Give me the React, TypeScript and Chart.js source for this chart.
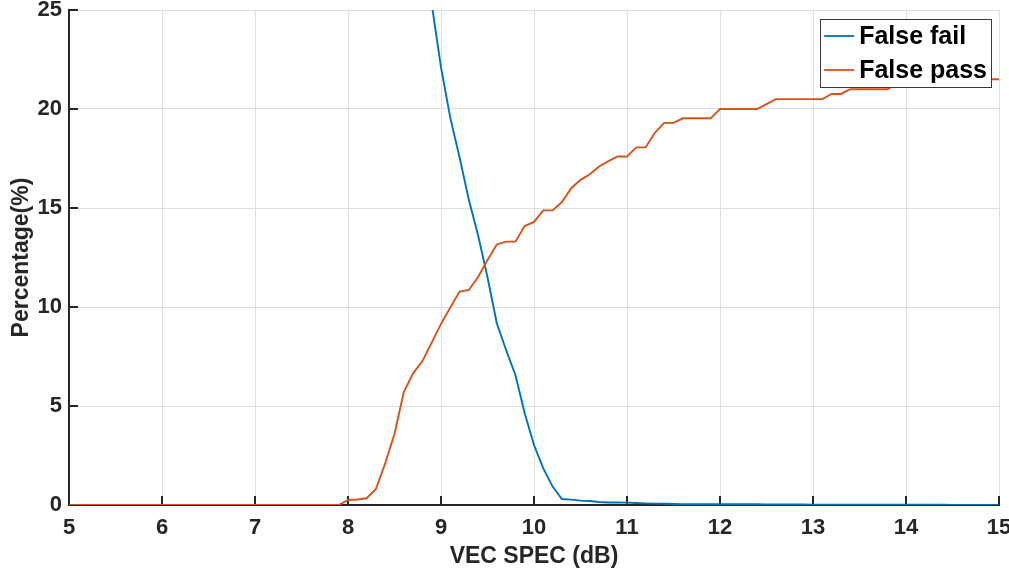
import React, { useEffect, useRef } from "react";
import { Chart, registerables } from "chart.js";

Chart.register(...registerables);

// VEC SPEC (dB) sample positions
const xValues = [
  5.0, 5.1, 5.2, 5.3, 5.4, 5.5, 5.6, 5.7, 5.8, 5.9,
  6.0, 6.1, 6.2, 6.3, 6.4, 6.5, 6.6, 6.7, 6.8, 6.9,
  7.0, 7.1, 7.2, 7.3, 7.4, 7.5, 7.6, 7.7, 7.8, 7.9,
  8.0, 8.1, 8.2, 8.3, 8.4, 8.5, 8.6, 8.7, 8.8, 8.9,
  9.0, 9.1, 9.2, 9.3, 9.4, 9.5, 9.6, 9.7, 9.8, 9.9,
  10.0, 10.1, 10.2, 10.3, 10.4, 10.5, 10.6, 10.7, 10.8, 10.9,
  11.0, 11.1, 11.2, 11.3, 11.4, 11.5, 11.6, 11.7, 11.8, 11.9,
  12.0, 12.1, 12.2, 12.3, 12.4, 12.5, 12.6, 12.7, 12.8, 12.9,
  13.0, 13.1, 13.2, 13.3, 13.4, 13.5, 13.6, 13.7, 13.8, 13.9,
  14.0, 14.1, 14.2, 14.3, 14.4, 14.5, 14.6, 14.7, 14.8, 14.9,
  15.0,
];

// False fail (%) — off the top of the plot before 8.8 dB
const falseFail = [
  null, null, null, null, null, null, null, null, null, null,
  null, null, null, null, null, null, null, null, null, null,
  null, null, null, null, null, null, null, null, null, null,
  null, null, null, null, null, null, null, null, 28.6, 25.3,
  22.1, 19.55, 17.55, 15.4, 13.6, 11.5, 9.18, 7.83, 6.57, 4.63,
  3.03, 1.85, 0.93, 0.3, 0.27, 0.22, 0.2, 0.15, 0.13, 0.13,
  0.12, 0.1, 0.08, 0.07, 0.06, 0.05, 0.04, 0.04, 0.04, 0.04,
  0.04, 0.04, 0.04, 0.04, 0.04, 0.03, 0.03, 0.03, 0.03, 0.03,
  0.02, 0.02, 0.02, 0.02, 0.02, 0.01, 0.01, 0.01, 0.01, 0.01,
  0.01, 0.01, 0.01, 0.01, 0.01, 0, 0, 0, 0, 0,
  0,
];

// False pass (%)
const falsePass = [
  0, 0, 0, 0, 0, 0, 0, 0, 0, 0,
  0, 0, 0, 0, 0, 0, 0, 0, 0, 0,
  0, 0, 0, 0, 0, 0, 0, 0, 0, 0,
  0.25, 0.28, 0.34, 0.81, 2.1, 3.6, 5.7, 6.65, 7.27, 8.2,
  9.15, 9.97, 10.78, 10.86, 11.53, 12.37, 13.16, 13.3, 13.3, 14.09,
  14.3, 14.88, 14.88, 15.3, 16.0, 16.42, 16.7, 17.1, 17.37, 17.6,
  17.6, 18.06, 18.06, 18.8, 19.3, 19.3, 19.53, 19.53, 19.53, 19.53,
  20.0, 20.0, 20.0, 20.0, 20.0, 20.25, 20.5, 20.5, 20.5, 20.5,
  20.5, 20.5, 20.76, 20.76, 21.0, 21.0, 21.0, 21.0, 21.0, 21.25,
  21.5, 21.5, 21.5, 21.5, 21.5, 21.5, 21.5, 21.5, 21.5, 21.5,
  21.5,
];

const seriesLabels = ["False fail", "False pass"];
const seriesColors = ["#0072BD", "#D95319"];
const xTitle = "VEC SPEC (dB)";
const yTitle = "Percentage(%)";

const FONT_FAMILY = "'Liberation Sans', Arial, Helvetica, sans-serif";
const AXIS_COLOR = "#262626";
const GRID_COLOR = "#dfdfdf";

const inwardTicks = {
  id: "inwardTicks",
  beforeDatasetsDraw(chart: any) {
    const { ctx, chartArea } = chart;
    const xs = chart.scales.x;
    const ys = chart.scales.y;
    ctx.save();
    ctx.strokeStyle = AXIS_COLOR;
    ctx.lineWidth = 2;
    ctx.beginPath();
    xs.ticks.forEach((t: any) => {
      const px = xs.getPixelForValue(t.value);
      ctx.moveTo(px, chartArea.bottom);
      ctx.lineTo(px, chartArea.bottom - 9);
    });
    ys.ticks.forEach((t: any) => {
      const py = ys.getPixelForValue(t.value);
      ctx.moveTo(chartArea.left, py);
      ctx.lineTo(chartArea.left + 9, py);
    });
    ctx.stroke();
    ctx.restore();
  },
};

const boxLegend = {
  id: "boxLegend",
  afterDraw(chart: any) {
    const { ctx, chartArea } = chart;
    const font = `bold 25px ${FONT_FAMILY}`;
    ctx.save();
    ctx.font = font;
    const labels = chart.data.datasets.map((d: any) => d.label);
    const textW = Math.max(...labels.map((l: string) => ctx.measureText(l).width));
    const lineLen = 30;
    const padL = 4;
    const gap = 5;
    const padR = 4;
    const rowH = 34;
    const w = padL + lineLen + gap + textW + padR;
    const h = rowH * labels.length;
    const right = chartArea.right - 8;
    const top = chartArea.top + 9;
    const left = right - w;
    ctx.fillStyle = "#ffffff";
    ctx.fillRect(left, top, w, h);
    ctx.strokeStyle = "#3a3a3a";
    ctx.lineWidth = 1;
    ctx.strokeRect(Math.round(left) + 0.5, Math.round(top) + 0.5, Math.round(w), Math.round(h));
    chart.data.datasets.forEach((d: any, i: number) => {
      const cy = top + rowH * i + rowH / 2;
      ctx.strokeStyle = d.borderColor;
      ctx.lineWidth = 1.8;
      ctx.beginPath();
      ctx.moveTo(left + padL, cy);
      ctx.lineTo(left + padL + lineLen, cy);
      ctx.stroke();
      ctx.fillStyle = "#000000";
      ctx.textAlign = "left";
      ctx.textBaseline = "middle";
      ctx.fillText(d.label, left + padL + lineLen + gap, cy + 1);
    });
    ctx.restore();
  },
};

export default function App() {
  const canvasRef = useRef<HTMLCanvasElement | null>(null);

  useEffect(() => {
    const canvas = canvasRef.current;
    if (!canvas) return;
    const tickFont = { family: FONT_FAMILY, size: 22, weight: "bold" as const };
    const titleFont = { family: FONT_FAMILY, size: 23, weight: "bold" as const };
    const chart = new Chart(canvas, {
      type: "line",
      data: {
        datasets: [
          {
            label: seriesLabels[0],
            data: xValues.map((x, i) => ({ x, y: falseFail[i] })),
            borderColor: seriesColors[0],
            backgroundColor: seriesColors[0],
            borderWidth: 1.9,
            pointRadius: 0,
            fill: false,
            tension: 0,
            order: 2,
          },
          {
            label: seriesLabels[1],
            data: xValues.map((x, i) => ({ x, y: falsePass[i] })),
            borderColor: seriesColors[1],
            backgroundColor: seriesColors[1],
            borderWidth: 1.9,
            pointRadius: 0,
            fill: false,
            tension: 0,
            order: 1,
          },
        ],
      },
      options: {
        responsive: false,
        animation: false,
        devicePixelRatio: 1,
        layout: { padding: { left: 0, top: 10, right: 10, bottom: 0 } },
        plugins: {
          legend: { display: false },
          tooltip: { enabled: false },
        },
        scales: {
          x: {
            type: "linear",
            min: 5,
            max: 15,
            ticks: {
              stepSize: 1,
              font: tickFont,
              color: AXIS_COLOR,
              padding: 10,
              maxRotation: 0,
              autoSkip: false,
            },
            grid: { color: GRID_COLOR, drawTicks: false, lineWidth: 1 },
            border: { color: AXIS_COLOR, width: 2 },
            title: {
              display: true,
              text: xTitle,
              font: titleFont,
              color: AXIS_COLOR,
              padding: { top: 0, bottom: 0 },
            },
            afterFit(s: any) {
              s.height = 65;
              s.paddingLeft = 0;
              s.paddingRight = 0;
            },
          },
          y: {
            type: "linear",
            min: 0,
            max: 25,
            ticks: {
              stepSize: 5,
              font: tickFont,
              color: AXIS_COLOR,
              padding: 7,
              autoSkip: false,
            },
            grid: { color: GRID_COLOR, drawTicks: false, lineWidth: 1 },
            border: { color: AXIS_COLOR, width: 2 },
            title: {
              display: true,
              text: yTitle,
              font: titleFont,
              color: AXIS_COLOR,
              padding: { top: 8, bottom: 0 },
            },
            afterFit(s: any) {
              s.width = 69;
              s.paddingTop = 0;
              s.paddingBottom = 0;
            },
          },
        },
      } as any,
      plugins: [inwardTicks, boxLegend],
    });
    return () => chart.destroy();
  }, []);

  return (
    <div style={{ position: "absolute", left: 0, top: 0, width: 1009, height: 570, background: "#ffffff" }}>
      <canvas ref={canvasRef} width={1009} height={570} style={{ display: "block" }} />
    </div>
  );
}
